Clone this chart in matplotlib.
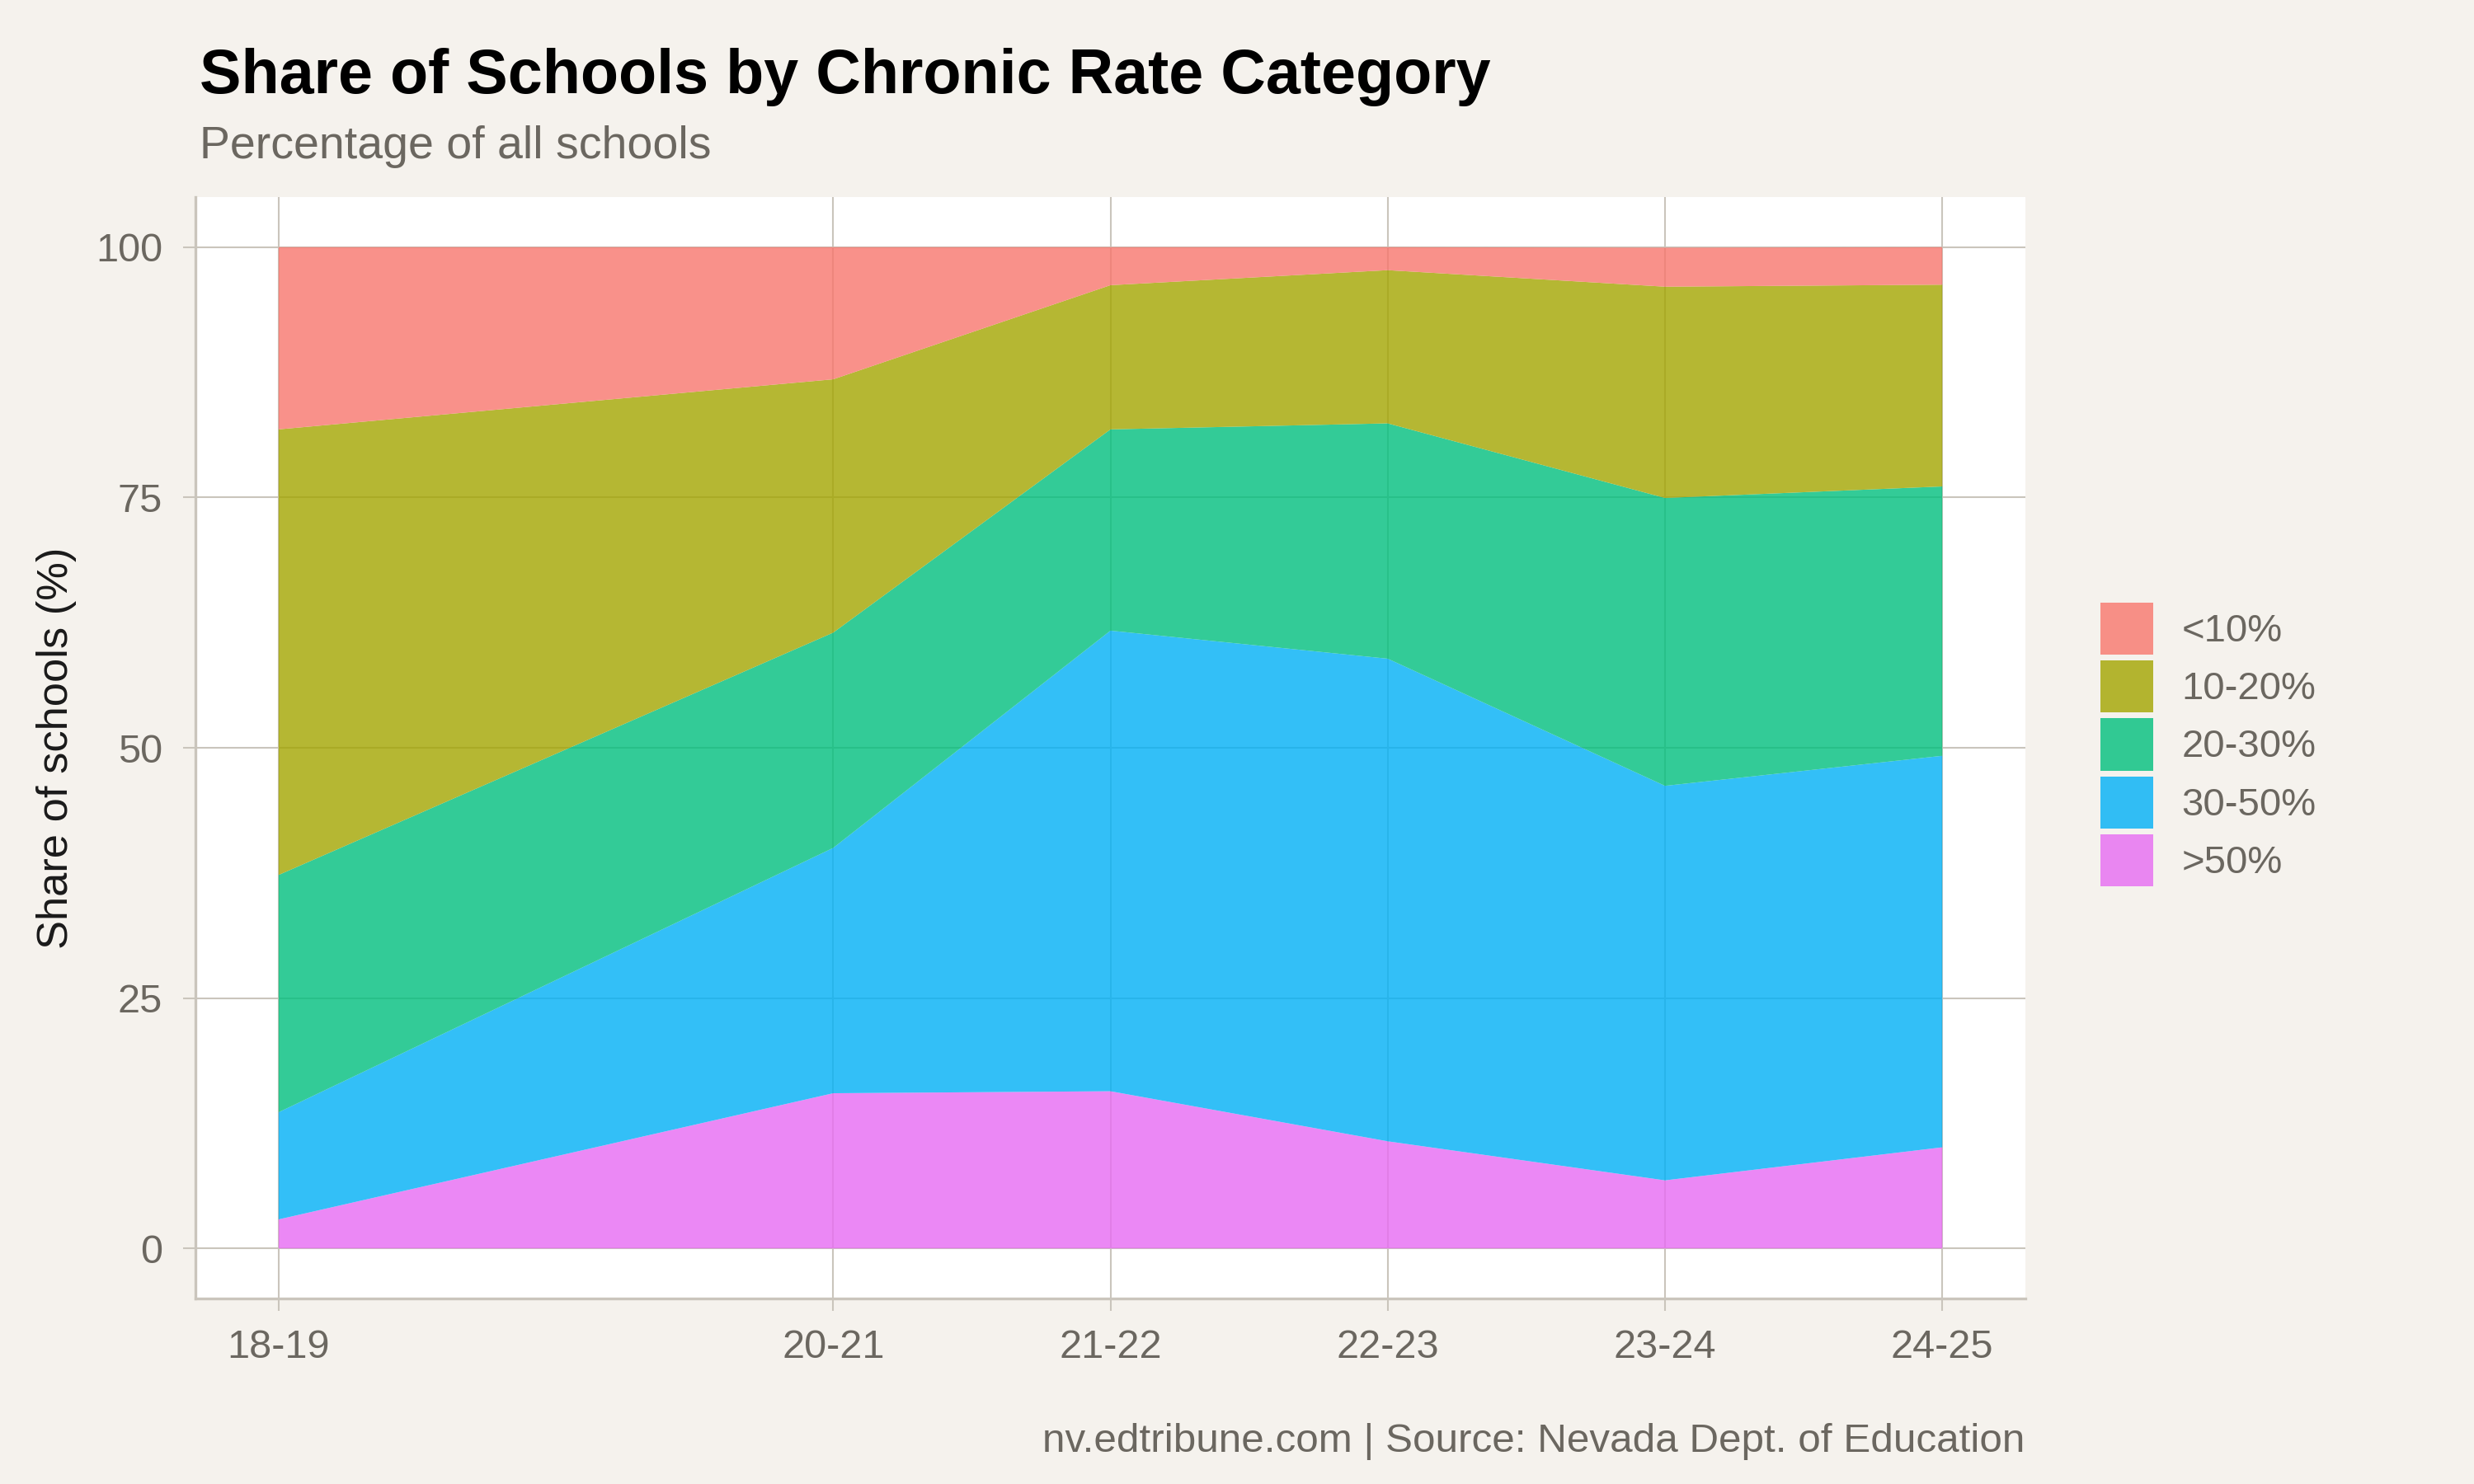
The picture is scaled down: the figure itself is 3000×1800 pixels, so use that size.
import matplotlib
matplotlib.use("Agg")
import matplotlib.pyplot as plt
from matplotlib.patches import Patch

# ---- data ----
years = [2018, 2020, 2021, 2022, 2023, 2024]
year_labels = ["18-19", "20-21", "21-22", "22-23", "23-24", "24-25"]
categories = ["<10%", "10-20%", "20-30%", "30-50%", ">50%"]
share_lt10 = [18.2, 13.2, 3.8, 2.3, 3.9, 3.75]
share_10_20 = [44.5, 25.3, 14.4, 15.3, 21.1, 20.15]
share_20_30 = [23.7, 21.5, 20.1, 23.5, 28.75, 26.9]
share_30_50 = [10.7, 24.5, 46.0, 48.2, 39.4, 39.1]
share_gt50 = [2.9, 15.5, 15.7, 10.7, 6.8, 10.1]
y_ticks = [0, 25, 50, 75, 100]

colors = {"<10%": "#F8766D", "10-20%": "#A3A500", "20-30%": "#00BF7D",
          "30-50%": "#00B0F6", ">50%": "#E76BF3"}

BG = "#F5F2ED"
GRID = "#CAC5BC"
TXT = "#6B6760"
FONT = ["Liberation Sans", "DejaVu Sans"]
plt.rcParams["font.family"] = FONT

fig = plt.figure(figsize=(15, 9), dpi=200, facecolor=BG)
ax = fig.add_axes([0.079, 0.125, 0.8187 - 0.079, 0.8672 - 0.125])
ax.set_facecolor("white")

stack_order = [">50%", "30-50%", "20-30%", "10-20%", "<10%"]
series = {"<10%": share_lt10, "10-20%": share_10_20, "20-30%": share_20_30,
          "30-50%": share_30_50, ">50%": share_gt50}
ax.stackplot(years, [series[c] for c in stack_order],
             colors=[colors[c] for c in stack_order], alpha=0.8,
             linewidth=0, zorder=3)

ax.set_xlim(2017.7, 2024.3)
ax.set_ylim(-5, 105)
ax.set_xticks(years)
ax.set_xticklabels(year_labels)
ax.set_yticks(y_ticks)
ax.set_yticklabels([str(v) for v in y_ticks])

ax.grid(True, color=GRID, linewidth=0.75, zorder=1)
ax.set_axisbelow(True)
for s in ["top", "right"]:
    ax.spines[s].set_visible(False)
for s in ["left", "bottom"]:
    ax.spines[s].set_color(GRID)
    ax.spines[s].set_linewidth(1.2)

ax.tick_params(axis="both", colors=GRID, length=5.4, width=0.75,
               labelcolor=TXT, labelsize=17.5)
ax.tick_params(axis="x", pad=8)
ax.tick_params(axis="y", pad=9)

fig.text(0.0807, 0.9372, "Share of Schools by Chronic Rate Category",
         fontsize=27.2, fontweight="bold", color="black", va="baseline", ha="left")
fig.text(0.0807, 0.8933, "Percentage of all schools",
         fontsize=20, color=TXT, va="baseline", ha="left")
fig.text(0.023, 0.496, "Share of schools (%)", rotation=90,
         fontsize=18.9, color="#1A1A1A", va="center", ha="center")
fig.text(0.8183, 0.0217, "nv.edtribune.com | Source: Nevada Dept. of Education",
         fontsize=17.8, color=TXT, va="baseline", ha="right")

handles = [Patch(facecolor=colors[c], alpha=0.8, edgecolor="none") for c in categories]
leg = fig.legend(handles, categories, loc="upper left",
                 bbox_to_anchor=(0.849, 0.5939), frameon=False,
                 fontsize=17, handlelength=1.36, handleheight=1.68,
                 labelspacing=0.15, handletextpad=0.72, borderpad=0,
                 borderaxespad=0)
for t in leg.get_texts():
    t.set_color(TXT)

fig.savefig("out.png", dpi=200, facecolor=BG)
